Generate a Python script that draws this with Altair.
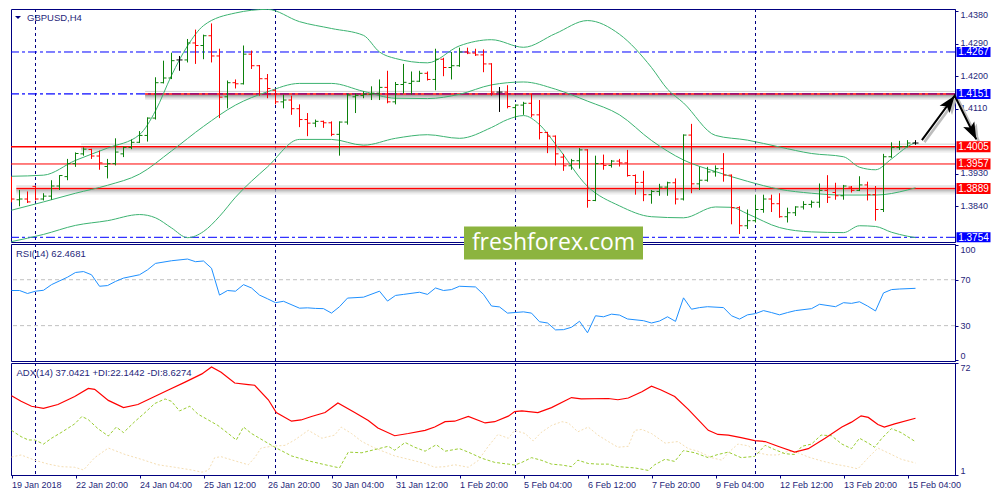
import altair as alt
import pandas as pd

# ---------------- data ----------------
opens = [
    1.3917, 1.3858, 1.3860, 1.3895, 1.3860, 1.3868, 1.3896, 1.3922, 1.3958, 1.3985,
    1.3997, 1.3979, 1.3950, 1.3958, 1.3985, 1.4003, 1.4017, 1.4036, 1.4084, 1.4182,
    1.4195, 1.4245, 1.4245, 1.4292, 1.4285, 1.4312, 1.4256, 1.4143, 1.4182, 1.4179,
    1.4261, 1.4229, 1.4193, 1.4161, 1.4129, 1.4134, 1.4110, 1.4080, 1.4070, 1.4075,
    1.4071, 1.4039, 1.4073, 1.4143, 1.4147, 1.4150, 1.4153, 1.4169, 1.4129, 1.4177,
    1.4180, 1.4186, 1.4208, 1.4191, 1.4247, 1.4224, 1.4229, 1.4267, 1.4264, 1.4259,
    1.4234, 1.4156, 1.4156, 1.4113, 1.4120, 1.4125, 1.4093, 1.4044, 1.4034, 1.3976,
    1.3952, 1.3966, 1.3996, 1.3856, 1.3958, 1.3953, 1.3965, 1.3960, 1.3925, 1.3906,
    1.3872, 1.3881, 1.3893, 1.3905, 1.3860, 1.4037, 1.3902, 1.3912, 1.3935, 1.3944,
    1.3926, 1.3836, 1.3786, 1.3800, 1.3831, 1.3860, 1.3847, 1.3811, 1.3822, 1.3838,
    1.3845, 1.3851, 1.3884, 1.3878, 1.3869, 1.3893, 1.3884, 1.3899, 1.3872, 1.3831,
    1.3977, 1.4003, 1.4005, 1.4015]
highs = [
    1.3922, 1.3885, 1.3881, 1.3896, 1.3876, 1.3912, 1.3926, 1.3971, 1.3989, 1.4003,
    1.3999, 1.3994, 1.3971, 1.4028, 1.4005, 1.4025, 1.4048, 1.4086, 1.4197, 1.4243,
    1.4265, 1.4256, 1.4303, 1.4329, 1.4315, 1.4346, 1.4276, 1.4188, 1.4191, 1.4285,
    1.4271, 1.4231, 1.4206, 1.4163, 1.4149, 1.4146, 1.4122, 1.4098, 1.4080, 1.4077,
    1.4075, 1.4075, 1.4152, 1.4152, 1.4158, 1.4172, 1.4191, 1.4215, 1.4184, 1.4234,
    1.4213, 1.4215, 1.4213, 1.4276, 1.4251, 1.4267, 1.4279, 1.4279, 1.4276, 1.4274,
    1.4236, 1.4170, 1.4175, 1.4122, 1.4129, 1.4152, 1.4134, 1.4046, 1.4036, 1.3985,
    1.3971, 1.4001, 1.3998, 1.3980, 1.3983, 1.3968, 1.3971, 1.3996, 1.3928, 1.3938,
    1.3885, 1.3902, 1.3908, 1.3917, 1.4039, 1.4068, 1.3950, 1.3949, 1.3953, 1.3987,
    1.3928, 1.3840, 1.3831, 1.3872, 1.3872, 1.3872, 1.3876, 1.3836, 1.3840, 1.3854,
    1.3856, 1.3903, 1.3926, 1.3905, 1.3899, 1.3896, 1.3923, 1.3908, 1.3896, 1.3985,
    1.4017, 1.4021, 1.4023, 1.4023]
lows = [
    1.3851, 1.3840, 1.3849, 1.3856, 1.3856, 1.3858, 1.3885, 1.3912, 1.3949, 1.3980,
    1.3971, 1.3941, 1.3917, 1.3953, 1.3976, 1.3998, 1.4015, 1.4019, 1.4080, 1.4180,
    1.4192, 1.4215, 1.4238, 1.4234, 1.4247, 1.4238, 1.4084, 1.4111, 1.4166, 1.4177,
    1.4220, 1.4146, 1.4139, 1.4122, 1.4111, 1.4093, 1.4059, 1.4034, 1.4059, 1.4057,
    1.4034, 1.3980, 1.4066, 1.4098, 1.4139, 1.4134, 1.4134, 1.4125, 1.4122, 1.4152,
    1.4149, 1.4184, 1.4188, 1.4161, 1.4200, 1.4191, 1.4226, 1.4261, 1.4256, 1.4211,
    1.4146, 1.4101, 1.4111, 1.4084, 1.4093, 1.4086, 1.4025, 1.3987, 1.3953, 1.3938,
    1.3941, 1.3944, 1.3836, 1.3854, 1.3941, 1.3947, 1.3950, 1.3922, 1.3872, 1.3854,
    1.3847, 1.3869, 1.3869, 1.3845, 1.3856, 1.3876, 1.3885, 1.3908, 1.3922, 1.3908,
    1.3790, 1.3763, 1.3777, 1.3795, 1.3822, 1.3824, 1.3808, 1.3795, 1.3813, 1.3831,
    1.3836, 1.3836, 1.3849, 1.3858, 1.3858, 1.3878, 1.3882, 1.3856, 1.3800, 1.3824,
    1.3974, 1.3996, 1.4003, 1.4010]
closes = [
    1.3860, 1.3860, 1.3852, 1.3860, 1.3868, 1.3896, 1.3925, 1.3958, 1.3986, 1.3998,
    1.3979, 1.3960, 1.3958, 1.3990, 1.4003, 1.4017, 1.4036, 1.4084, 1.4182, 1.4195,
    1.4243, 1.4245, 1.4292, 1.4285, 1.4312, 1.4256, 1.4142, 1.4182, 1.4179, 1.4261,
    1.4229, 1.4193, 1.4166, 1.4129, 1.4134, 1.4110, 1.4080, 1.4070, 1.4075, 1.4071,
    1.4039, 1.4073, 1.4148, 1.4147, 1.4150, 1.4153, 1.4169, 1.4129, 1.4177, 1.4183,
    1.4186, 1.4208, 1.4191, 1.4247, 1.4224, 1.4229, 1.4267, 1.4264, 1.4259, 1.4234,
    1.4156, 1.4156, 1.4116, 1.4120, 1.4125, 1.4093, 1.4044, 1.4034, 1.3985, 1.3952,
    1.3966, 1.3996, 1.3856, 1.3958, 1.3953, 1.3965, 1.3960, 1.3925, 1.3906, 1.3872,
    1.3881, 1.3893, 1.3905, 1.3860, 1.4037, 1.3902, 1.3912, 1.3935, 1.3944, 1.3926,
    1.3836, 1.3786, 1.3800, 1.3831, 1.3860, 1.3847, 1.3811, 1.3822, 1.3838, 1.3845,
    1.3851, 1.3884, 1.3865, 1.3869, 1.3896, 1.3884, 1.3899, 1.3872, 1.3831, 1.3977,
    1.4003, 1.4005, 1.4015, 1.4015]

# Bollinger bands (read at selected bars)
bb_up_idx = [0, 4, 8, 12, 16, 18, 20, 22, 24, 28, 32, 36, 40, 44, 46, 48, 52, 56, 60, 64,
             68, 72, 76, 80, 82, 84, 88, 92, 96, 100, 104, 106, 108, 110, 112, 113]
bb_up = [1.3923, 1.3926, 1.3967, 1.4001, 1.4038, 1.4104, 1.4202, 1.4284, 1.4340, 1.4375,
         1.4385, 1.4351, 1.4332, 1.4313, 1.4267, 1.4249, 1.4237, 1.4284, 1.4301, 1.4280,
         1.4318, 1.4354, 1.4316, 1.4224, 1.4164, 1.4126, 1.4036, 1.4023, 1.4004, 1.3986,
         1.3977, 1.3948, 1.3941, 1.3971, 1.4005, 1.4017]
bb_mid_idx = [0, 4, 8, 12, 16, 20, 24, 28, 32, 36, 40, 44, 48, 52, 56, 60, 64, 68, 72, 76,
              80, 84, 88, 92, 96, 100, 104, 108, 112, 113]
bb_mid = [1.3829, 1.3852, 1.3876, 1.3898, 1.3929, 1.3993, 1.4061, 1.4120, 1.4157, 1.4180,
          1.4180, 1.4158, 1.4139, 1.4138, 1.4150, 1.4176, 1.4184, 1.4164, 1.4131, 1.4093,
          1.4022, 1.3968, 1.3936, 1.3909, 1.3887, 1.3876, 1.3871, 1.3871, 1.3885, 1.3891]
bb_low_idx = [0, 4, 8, 12, 16, 18, 20, 22, 24, 26, 28, 32, 36, 40, 44, 48, 52, 56, 60, 62,
              64, 66, 68, 72, 76, 80, 84, 88, 90, 92, 96, 100, 104, 106, 108, 110, 112, 113]
bb_low = [1.3742, 1.3762, 1.3787, 1.3800, 1.3817, 1.3808, 1.3780, 1.3753, 1.3770, 1.3812,
          1.3865, 1.3949, 1.4025, 1.4025, 1.4009, 1.4028, 1.4038, 1.4028, 1.4058, 1.4080,
          1.4091, 1.4066, 1.4012, 1.3895, 1.3841, 1.3811, 1.3808, 1.3838, 1.3837, 1.3819,
          1.3781, 1.3769, 1.3767, 1.3786, 1.3784, 1.3768, 1.3757, 1.3753]

# RSI(14)
rsi_idx = [0, 1, 2, 3, 4, 5, 7, 8, 9, 10, 11, 12, 13, 14, 16, 17, 18, 20, 22, 23,
           24, 25, 26, 27, 28, 29, 30, 31, 32, 33, 34, 36, 37, 38, 39, 40, 41, 42, 44, 46,
           47, 48, 49, 51, 52, 53, 54, 55, 56, 58, 59, 60, 61, 62, 64, 65, 66, 67, 68, 69,
           70, 71, 72, 73, 74, 75, 76, 77, 79, 80, 81, 82, 83, 84, 85, 86, 87, 89, 90, 91,
           92, 93, 94, 95, 96, 97, 98, 100, 101, 103, 104, 105, 106, 107, 108, 109, 110, 111, 113]
rsi_val = [60.6, 60.6, 58.0, 60.0, 60.8, 65.7, 72.2, 76.3, 77.1, 74.3, 64.3, 64.9, 68.5, 71.4, 74.3, 78.6, 84.2, 86.5, 88.0, 85.7,
           86.3, 80.0, 56.6, 60.6, 60.0, 65.7, 62.8, 56.6, 53.4, 50.0, 51.2, 45.2, 45.5, 45.0, 44.8, 40.9, 46.5, 54.0, 54.8, 60.0,
           51.4, 56.3, 57.2, 59.1, 57.2, 62.8, 60.6, 61.4, 64.3, 63.7, 57.2, 47.1, 46.3, 40.9, 42.0, 40.9, 33.4, 32.3, 26.3, 26.5,
           28.6, 33.8, 23.8, 38.6, 37.7, 40.0, 39.2, 35.8, 34.3, 32.3, 34.0, 37.7, 33.7, 54.2, 44.3, 45.7, 46.5, 45.7, 38.6, 35.7,
           39.4, 40.5, 43.1, 41.4, 39.4, 41.4, 43.1, 44.8, 48.6, 46.5, 50.0, 49.4, 50.8, 47.1, 42.8, 58.5, 61.4, 61.9, 62.5]

# ADX(14), +DI, -DI
adx_idx = [0, 1.2, 2.5, 4, 5.8, 7.9, 9.6, 10.4, 12.1, 14, 15.8, 17.5, 19.6, 21.7, 23.8, 25, 26.2, 27.9, 29.6, 30.4,
           32.1, 33.1, 35, 36.2, 37.5, 39.2, 40.8, 42.9, 44.6, 45.8, 47.9, 49.6, 51.7, 52.9, 54.2, 55.4, 57.1, 59.2, 60.4, 62.1,
           62.9, 63.8, 65.8, 67.5, 70, 71.2, 74.6, 75.8, 77.1, 78.8, 80, 81.2, 82.9, 84.6, 87.1, 88.3, 89.6, 91.2, 92.9, 94.2,
           95.8, 97.9, 99.6, 101.7, 103.8, 105, 106.2, 107.1, 108.3, 109.1, 110.4, 113]
adx_val = [51.2, 47.7, 44.6, 43.2, 45.7, 50.8, 55.9, 55.3, 48.3, 43.7, 45.7, 49.8, 54.9, 59.9, 65.1, 69.5, 66.1, 59.3, 58.3, 57.9,
           48.7, 40.6, 35.1, 35.9, 38.1, 40.6, 46.7, 40.6, 35.5, 30.8, 25.9, 27.3, 29.3, 31.4, 34.8, 35.1, 38.1, 34.0, 34.8, 38.3,
           41.2, 41.6, 40.6, 43.7, 50.1, 49.3, 49.5, 48.7, 49.8, 53.8, 57.3, 54.9, 50.8, 42.6, 29.3, 26.7, 26.3, 24.7, 22.8, 22.2,
           19.2, 15.5, 17.7, 24.3, 31.4, 34.5, 38.5, 37.5, 33.0, 31.4, 33.4, 37.0]
pdi_idx = [0, 1.2, 2.1, 2.9, 4, 5, 6.2, 7.9, 8.8, 9.6, 10.8, 12.1, 13.1, 14, 15.4, 16.7, 17.9, 19.2, 20, 21,
           22.3, 23.3, 24.6, 25.8, 27.1, 28.1, 29, 30, 31.7, 33.1, 35, 37.1, 39.2, 41, 42.1, 43.8, 45.4, 47.1, 47.9, 49.2,
           50.4, 51.7, 53.1, 54.2, 56, 57.1, 58.8, 60.4, 62.1, 62.9, 63.8, 65, 66.2, 67.5, 68.8, 70, 70.8, 72.1, 73.3, 74.6,
           75.8, 77.9, 79.6, 80.4, 81.7, 82.9, 84, 85.4, 87.1, 88.3, 89.6, 91.2, 92.9, 94.2, 95.4, 96.7, 97.9, 98.8, 100, 101.2,
           102.5, 103.8, 105, 106, 107.1, 107.9, 108.8, 110, 111.2, 113]
pdi_val = [29.3, 25.3, 23.2, 23.2, 20.6, 24.3, 27.9, 33.4, 38.1, 36.1, 30.4, 25.7, 31.4, 27.9, 34.8, 40.6, 46.3, 49.2, 47.7, 41.6,
           44.6, 39.6, 35.9, 32.4, 27.3, 23.2, 31.4, 27.3, 22.2, 18.1, 13.1, 10.0, 7.5, 5.5, 15.5, 15.1, 17.1, 19.2, 16.7, 21.6,
           18.6, 16.1, 20.2, 16.1, 17.7, 15.5, 11.6, 9.0, 7.9, 7.3, 9.0, 12.0, 10.4, 7.9, 7.3, 6.3, 10.4, 8.3, 7.9, 7.9,
           6.3, 5.5, 3.9, 7.5, 11.0, 9.6, 16.5, 15.1, 12.0, 14.0, 15.5, 12.0, 12.8, 19.8, 17.1, 14.5, 14.0, 19.2, 20.6, 26.3,
           25.9, 20.6, 17.7, 24.3, 21.2, 18.6, 24.3, 30.4, 27.9, 22.1]
mdi_idx = [0, 1.2, 2.9, 4.6, 6.2, 7.9, 9, 10.4, 12.1, 14.2, 16.2, 18.3, 20.4, 22.5, 23.8, 24.6, 25.4, 26.2, 27.9, 29.6,
           30.4, 31.2, 32.5, 34.2, 35.4, 37.1, 38.8, 40.4, 41.2, 42.5, 43.8, 45.4, 47.9, 49.6, 51.7, 52.9, 54.2, 55.4, 57.1, 58.3,
           59.6, 60.8, 62.1, 62.9, 64.2, 65.2, 66.2, 67.5, 68.8, 69.6, 70.8, 72.1, 73.3, 74.6, 75.8, 77.1, 77.9, 78.8, 80, 81.7,
           83.3, 84.6, 85.8, 87.5, 88.8, 89.6, 90.8, 92.1, 93.3, 94.6, 95.8, 97.1, 98.3, 99.6, 101.2, 102.9, 104.6, 105.8, 107.1, 108.3,
           110, 111.2, 113]
mdi_val = [12.4, 13.7, 10.4, 7.9, 6.3, 5.9, 4.2, 12.0, 18.1, 14.0, 11.0, 7.5, 5.9, 4.2, 2.8, 3.9, 12.0, 12.6, 10.0, 7.5,
           12.0, 18.1, 19.2, 19.8, 23.2, 29.3, 24.3, 26.3, 31.4, 27.3, 22.2, 18.1, 13.1, 11.0, 8.3, 5.9, 6.3, 7.5, 5.9, 10.0,
           19.2, 26.7, 24.3, 29.3, 27.3, 22.6, 27.9, 32.4, 34.8, 34.0, 28.4, 31.4, 26.3, 22.2, 18.6, 19.2, 29.3, 29.9, 27.3, 21.2,
           22.2, 17.7, 16.1, 12.0, 10.4, 15.1, 20.6, 19.5, 15.1, 13.7, 13.7, 16.1, 15.1, 12.4, 10.0, 7.9, 6.3, 4.9, 12.0, 18.1,
           14.0, 11.0, 8.6]

# time axis
tick_pos = [0, 8, 16, 24, 32, 40, 48, 56, 64, 72, 80, 88, 96, 104, 112]
tick_labels = ["19 Jan 2018", "22 Jan 20:00", "24 Jan 04:00", "25 Jan 12:00", "26 Jan 20:00",
               "30 Jan 04:00", "31 Jan 12:00", "1 Feb 20:00", "5 Feb 04:00", "6 Feb 12:00",
               "7 Feb 20:00", "9 Feb 04:00", "12 Feb 12:00", "13 Feb 20:00", "15 Feb 04:00"]
sep_idx = [3, 33, 63, 93]          # weekly period separators
# scale labels visible in the reference (1.4020 and 1.3750 sit hidden under the price tags)
price_ticks = [1.4380, 1.4290, 1.4200, 1.4110, 1.3930, 1.3840]

# drawn objects
blue_levels = [1.4267, 1.4151, 1.3754]
red_levels = [1.4151, 1.4005, 1.3957, 1.3889]
red_start = [16.7, -0.0625, -0.0625, 0.6]
red_width = [1.5, 1.5, 1.0, 1.5]
shadow_levels = [1.4151, 1.4005, 1.3889]
shadow_start = [16.7, 8.7, 0.6]
box_prices = [1.4267, 1.4151, 1.4005, 1.3957, 1.3889, 1.3754]
box_colors = ["#0000ff", "#0000ff", "#ff0000", "#ff0000", "#ff0000", "#0000ff"]
arrow_idx = [113.8, 117.9, 120.6]
arrow_price = [1.4023, 1.4146, 1.4025]
head_angles = [36.5, 153.7]

# ---------------- layout / style ----------------
W = 944
H_MAIN, H_RSI, H_ADX = 233, 117, 112
XDOM = [-0.0625, -0.0625 + W / 8]
PDOM = [1.3741, 1.4386]
RDOM = [-0.8, 101.1]
ADOM = [1, 72]
NAVY = "#000080"
TXT = "#1f1f7a"
FONT = "Liberation Sans"
UP, DOWN, DOJI = "#0b800b", "#ff0000", "#000000"

xs = alt.Scale(domain=XDOM, nice=False, zero=False)
ps = alt.Scale(domain=PDOM, nice=False, zero=False)
rs = alt.Scale(domain=RDOM, nice=False, zero=False)
ads = alt.Scale(domain=ADOM, nice=False, zero=False)

price_axis = alt.Axis(orient="right", values=price_ticks, format=".4f", labelFlush=3,
                      labelOffset=-1, tickSize=3, labelPadding=2, title=None, grid=False)
rsi_axis = alt.Axis(orient="right", values=[0, 30, 70, 100], labelFlush=3,
                    tickSize=3, labelPadding=2, title=None, grid=False)
adx_axis = alt.Axis(orient="right", values=[1, 72], labelFlush=3,
                    tickSize=3, labelPadding=2, title=None, grid=False)
label_expr = "[" + ",".join("'%s'" % t for t in tick_labels) + "][round(datum.value/8)]"
x_axis = alt.Axis(values=tick_pos, labelExpr=label_expr, labelAlign="left", labelPadding=2,
                  tickSize=3, labelFlush=False, labelOverlap=False, title=None, grid=False)


def X(field="idx"):
    return alt.X(f"{field}:Q", scale=xs, axis=None, title=None)


def XA(field="idx"):
    return alt.X(f"{field}:Q", scale=xs, axis=x_axis, title=None)


def P(field):
    return alt.Y(f"{field}:Q", scale=ps, axis=price_axis, title=None)


def R(field):
    return alt.Y(f"{field}:Q", scale=rs, axis=rsi_axis, title=None)


def A(field):
    return alt.Y(f"{field}:Q", scale=ads, axis=adx_axis, title=None)


def text_layer(txt, x, y, size=9.5, color=TXT, font=FONT, align="left"):
    return alt.Chart(pd.DataFrame({"t": [txt]})).mark_text(
        align=align, baseline="middle", font=font, fontSize=size, color=color
    ).encode(text="t:N", x=alt.value(x), y=alt.value(y))


sep_df = pd.DataFrame({"idx": sep_idx})


def separators(xenc):
    return alt.Chart(sep_df).mark_rule(color=NAVY, strokeDash=[3, 3], strokeWidth=1).encode(x=xenc)


# ---------------- main price panel ----------------
bars = pd.DataFrame({"idx": list(range(len(opens))), "open": opens, "high": highs,
                     "low": lows, "close": closes})
bars["col"] = [UP if c > o else (DOWN if c < o else DOJI) for o, c in zip(opens, closes)]

layers = [separators(X())]
layers.append(alt.Chart(pd.DataFrame({"p": blue_levels})).mark_rule(
    color="#0000ff", strokeDash=[9, 3, 3, 3], strokeWidth=1).encode(y=P("p")))

sh_df = pd.DataFrame({"p": shadow_levels, "s": shadow_start})
for off, col in [(-2.5, "#cfcfcf"), (1.5, "#9c9c9c"), (2.5, "#b6b6b6"), (3.5, "#cdcdcd"),
                 (4.5, "#dfdfdf"), (5.5, "#eeeeee")]:
    layers.append(alt.Chart(sh_df).mark_rule(color=col, strokeWidth=1, yOffset=off).encode(
        x=X("s"), x2=alt.value(W), y=P("p")))

red_df = pd.DataFrame({"p": red_levels, "s": red_start, "w": red_width})
layers.append(alt.Chart(red_df).mark_rule(color="#ff0000").encode(
    x=X("s"), x2=alt.value(W), y=P("p"), strokeWidth=alt.StrokeWidth("w:Q", scale=None)))
layers.append(alt.Chart(pd.DataFrame({"p": [blue_levels[1]]})).mark_rule(
    color="#0000ff", strokeDash=[9, 3, 3, 3], strokeWidth=1, opacity=0.45).encode(y=P("p")))

band_df = pd.concat([
    pd.DataFrame({"idx": bb_up_idx, "v": bb_up, "b": "up"}),
    pd.DataFrame({"idx": bb_mid_idx, "v": bb_mid, "b": "mid"}),
    pd.DataFrame({"idx": bb_low_idx, "v": bb_low, "b": "low"}),
])
layers.append(alt.Chart(band_df).mark_line(color="#3cb371", strokeWidth=1,
                                           interpolate="monotone", clip=True).encode(
    x=X(), y=P("v"), detail="b:N"))

col_enc = alt.Color("col:N", scale=None)
layers.append(alt.Chart(bars).mark_rule(strokeWidth=1, clip=True).encode(
    x=X(), y=P("low"), y2="high:Q", color=col_enc))
layers.append(alt.Chart(bars).mark_tick(orient="horizontal", size=3, thickness=1, xOffset=-1.5,
                                        opacity=1, clip=True).encode(
    x=X(), y=P("open"), color=col_enc))
layers.append(alt.Chart(bars).mark_tick(orient="horizontal", size=3, thickness=1, xOffset=1.5,
                                        opacity=1, clip=True).encode(
    x=X(), y=P("close"), color=col_enc))

# forecast arrows
arr_df = pd.DataFrame({"idx": arrow_idx, "p": arrow_price, "o": [0, 1, 2]})
head_df = pd.DataFrame({"idx": arrow_idx[1:], "p": arrow_price[1:], "a": head_angles})
HEAD = "M0,0L-0.8,2.2L0,1.7L0.8,2.2Z"
layers.append(alt.Chart(arr_df).mark_line(color="#bdbdbd", strokeWidth=2.6, xOffset=2.5, yOffset=2,
                                          clip=False).encode(x=X(), y=P("p"), order="o:Q"))
layers.append(alt.Chart(head_df).mark_point(shape=HEAD, filled=True, size=240, color="#bdbdbd",
                                            opacity=1, strokeWidth=0, xOffset=2.5, yOffset=2,
                                            clip=False).encode(
    x=X(), y=P("p"), angle=alt.Angle("a:Q", scale=None)))
layers.append(alt.Chart(arr_df).mark_line(color="black", strokeWidth=2, clip=False).encode(
    x=X(), y=P("p"), order="o:Q"))
layers.append(alt.Chart(head_df).mark_point(shape=HEAD, filled=True, size=240, color="black",
                                            opacity=1, strokeWidth=0, clip=False).encode(
    x=X(), y=P("p"), angle=alt.Angle("a:Q", scale=None)))

# symbol title
layers.append(alt.Chart(pd.DataFrame({"t": [0]})).mark_point(
    shape="M-1,-0.5L1,-0.5L0,0.5Z", size=36, filled=True, color=NAVY, opacity=1, strokeWidth=0
).encode(x=alt.value(7), y=alt.value(8.5)))
layers.append(text_layer("GBPUSD,H4", 16, 8.5))

# price tags on the right scale
box_df = pd.DataFrame({"p": box_prices, "c": box_colors,
                       "t": ["%.4f" % v for v in box_prices]})
layers.append(alt.Chart(box_df).transform_filter("datum.c == '#0000ff'").mark_tick(
    orient="horizontal", size=34, thickness=10, opacity=1, clip=False).encode(
    y=P("p"), x=alt.value(W + 18.5), color=alt.Color("c:N", scale=None)))
layers.append(alt.Chart(box_df).transform_filter("datum.c == '#ff0000'").mark_tick(
    orient="horizontal", size=34, thickness=11, opacity=1, clip=False).encode(
    y=P("p"), x=alt.value(W + 18.5), color=alt.Color("c:N", scale=None)))
layers.append(alt.Chart(box_df).mark_text(align="center", baseline="middle", font=FONT,
                                          fontSize=10, color="white", clip=False, dy=0.5).encode(
    y=P("p"), x=alt.value(W + 18.5), text="t:N"))

main = alt.layer(*layers).properties(width=W, height=H_MAIN)

# ---------------- RSI panel ----------------
rsi_df = pd.DataFrame({"idx": rsi_idx, "v": rsi_val})
rsi = alt.layer(
    separators(X()),
    alt.Chart(pd.DataFrame({"v": [70, 30]})).mark_rule(color="#c0c0c0", strokeDash=[4, 3],
                                                       strokeWidth=1).encode(y=R("v")),
    alt.Chart(rsi_df).mark_line(color="#1e90ff", strokeWidth=1).encode(x=X(), y=R("v")),
    text_layer("RSI(14) 62.4681", 5, 9.5),
    alt.Chart(pd.DataFrame({"t": [0]})).mark_rect(color="#8cb43f", clip=False).encode(
        x=alt.value(453), x2=alt.value(632), y=alt.value(-17.4), y2=alt.value(15.4)),
    text_layer("freshforex.com", 542.5, -1.5, size=23, color="white", font="Open Sans",
               align="center"),
).properties(width=W, height=H_RSI)

# ---------------- ADX panel ----------------
adx_df = pd.DataFrame({"idx": adx_idx, "v": adx_val})
pdi_df = pd.DataFrame({"idx": pdi_idx, "v": pdi_val})
mdi_df = pd.DataFrame({"idx": mdi_idx, "v": mdi_val})
adx = alt.layer(
    separators(XA()),
    alt.Chart(mdi_df).mark_line(color="#f5deb3", strokeWidth=1, strokeDash=[2, 2]).encode(
        x=XA(), y=A("v")),
    alt.Chart(pdi_df).mark_line(color="#9acd32", strokeWidth=1, strokeDash=[3, 2]).encode(
        x=XA(), y=A("v")),
    alt.Chart(adx_df).mark_line(color="#ff0000", strokeWidth=1.2).encode(x=XA(), y=A("v")),
    text_layer("ADX(14) 37.0421 +DI:22.1442 -DI:8.6274", 5.5, 9.5),
).properties(width=W, height=H_ADX)

chart = alt.vconcat(main, rsi, adx, spacing=2, bounds="flush").properties(
    padding=0, background="white"
).configure_view(stroke=NAVY, strokeWidth=1).configure_axis(
    labelFont=FONT, labelFontSize=9, labelColor=TXT, domainColor=NAVY, tickColor=NAVY,
    domainWidth=1, tickWidth=1
)

chart.save("out.html", embed_options={"renderer": "svg", "actions": False})
